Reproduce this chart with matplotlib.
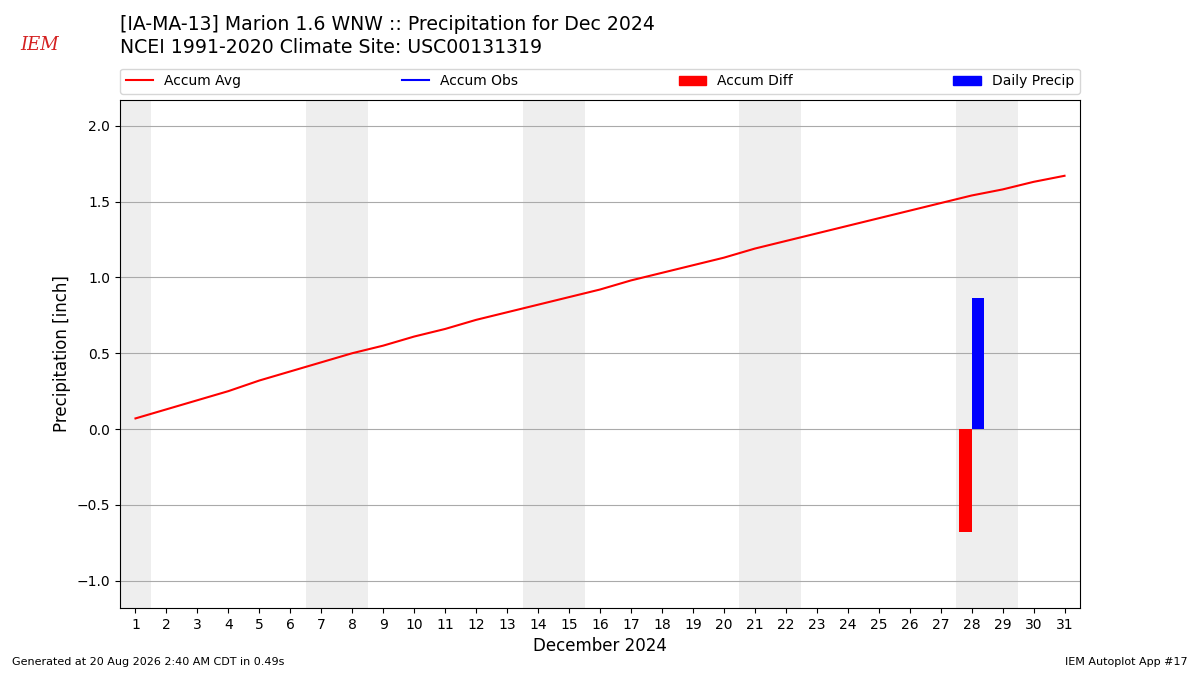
import matplotlib
matplotlib.use("Agg")
import matplotlib.pyplot as plt
from matplotlib.lines import Line2D
from matplotlib.patches import Patch

days = list(range(1, 32))
accum_avg = [0.07, 0.13, 0.19, 0.25, 0.32, 0.38, 0.44, 0.50, 0.55, 0.61,
             0.66, 0.72, 0.77, 0.82, 0.87, 0.92, 0.98, 1.03, 1.08, 1.13,
             1.19, 1.24, 1.29, 1.34, 1.39, 1.44, 1.49, 1.54, 1.58, 1.63, 1.67]
obs_days = [28]
accum_obs = [0.865]
daily_precip = [0.865]
accum_diff = [-0.68]
weekend_starts = [1, 7, 14, 21, 28]
weekend_lengths = [1, 2, 2, 2, 2]

title1 = "[IA-MA-13] Marion 1.6 WNW :: Precipitation for Dec 2024"
title2 = "NCEI 1991-2020 Climate Site: USC00131319"

fig = plt.figure(figsize=(12, 6.75), dpi=100)
ax = fig.add_axes([0.1, 0.0993, 0.8, 0.7526])

for s, n in zip(weekend_starts, weekend_lengths):
    ax.axvspan(s - 0.5, s - 0.5 + n, color="#eeeeee", zorder=0, lw=0)

ax.plot(days, accum_avg, color="red", lw=1.5, zorder=3)
ax.bar(obs_days, accum_diff, width=-0.4, align="edge", color="red", zorder=3)
ax.bar(obs_days, daily_precip, width=0.4, align="edge", color="blue", zorder=3)

ax.set_xlim(0.5, 31.5)
ax.set_ylim(-1.18, 2.17)
ax.set_xticks(days)
ax.set_yticks([-1.0, -0.5, 0.0, 0.5, 1.0, 1.5, 2.0])
ax.yaxis.grid(True, color="#aaaaaa", lw=0.8, zorder=1)
ax.set_axisbelow(True)
ax.set_xlabel("December 2024", fontsize=12)
ax.set_ylabel("Precipitation [inch]", fontsize=12)
ax.tick_params(labelsize=10)

handles = [Line2D([], [], color="red", lw=1.5),
           Line2D([], [], color="blue", lw=1.5),
           Patch(color="red"),
           Patch(color="blue")]
labels = ["Accum Avg", "Accum Obs", "Accum Diff", "Daily Precip"]
fig.legend(handles, labels, loc="lower left", ncol=4, mode="expand",
           bbox_to_anchor=(0.1, 0.861, 0.8, 0.04), fontsize=10,
           borderaxespad=0.0, frameon=True)

fig.text(0.1, 0.964, title1, fontsize=13.6, va="center", ha="left")
fig.text(0.1, 0.930, title2, fontsize=13.6, va="center", ha="left")

fig.text(0.017, 0.933, "IEM", fontsize=13, color="#d42020", style="italic",
         family="DejaVu Serif", va="center", ha="left")

fig.text(0.01, 0.015, "Generated at 20 Aug 2026 2:40 AM CDT in 0.49s", fontsize=8)
fig.text(0.99, 0.015, "IEM Autoplot App #17", fontsize=8, ha="right")

fig.savefig("out.png", dpi=100)
